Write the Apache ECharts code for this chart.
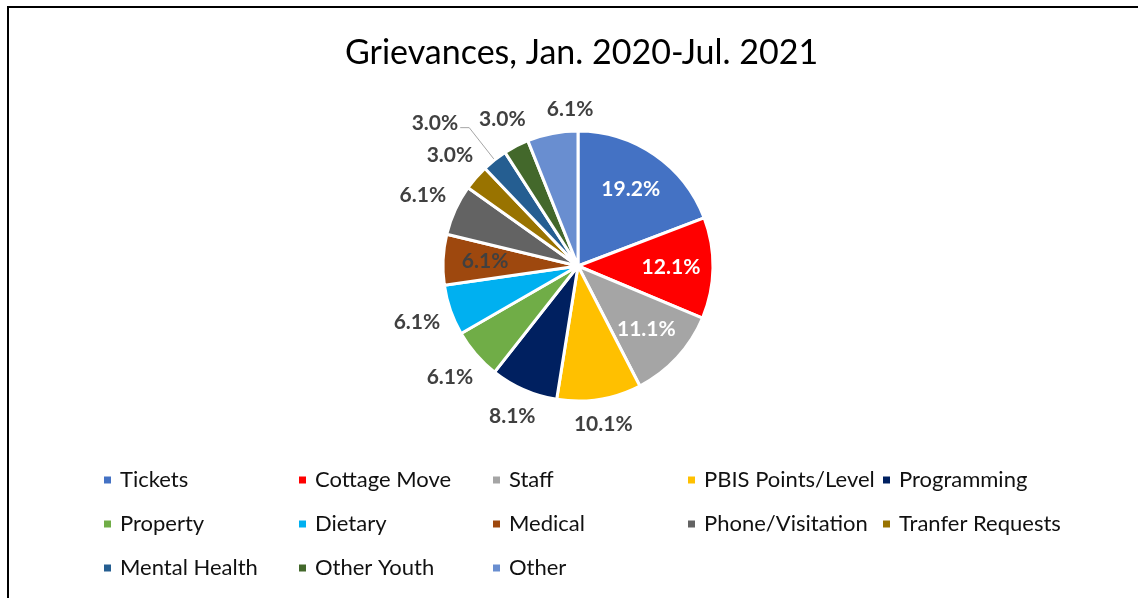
<!DOCTYPE html>
<html>
<head>
    <title>Grievances</title>
    <meta http-equiv="content-type" content="text/html; charset=utf-8" />
    <script src="https://cdn.jsdelivr.net/npm/echarts@6/dist/echarts.min.js"></script>
    <style>
        body { margin: 0; background: #fff; }
        #frame { position: absolute; left: 7px; top: 6px; width: 1140px; height: 600px; border-left: 2px solid #000; border-top: 2px solid #000; }
        #main { position: absolute; left: 0; top: 0; width: 1138px; height: 598px; }
    </style>
</head>
<body>
    <div id="main"></div>
    <div id="frame"></div>
    <script type="text/javascript">
        var categories = ['Tickets', 'Cottage Move', 'Staff', 'PBIS Points/Level', 'Programming',
            'Property', 'Dietary', 'Medical', 'Phone/Visitation', 'Tranfer Requests',
            'Mental Health', 'Other Youth', 'Other'];
        var counts = [19, 12, 11, 10, 8, 6, 6, 6, 6, 3, 3, 3, 6];
        var colors = ['#4472C4', '#FF0000', '#A5A5A5', '#FFC000', '#002060',
            '#70AD47', '#00B0F0', '#9E480E', '#636363', '#997300',
            '#255E91', '#43682B', '#698ED0'];
        // labels drawn inside the slice (name -> text colour)
        var insideLabels = { 'Tickets': '#fff', 'Cottage Move': '#fff', 'Staff': '#fff', 'Medical': '#404040' };

        var cx = 578, cy = 266, R = 135;
        var total = counts.reduce(function (a, b) { return a + b; }, 0);
        function pct(p) { return (p.value / total * 100).toFixed(1) + '%'; }

        // mid angle of every slice, clockwise from 12 o'clock
        var midAngles = [];
        var acc = 0;
        counts.forEach(function (v) {
            midAngles.push((acc + v / 2) / total * Math.PI * 2);
            acc += v;
        });

        var labelFont = { fontFamily: 'Lato', fontWeight: 'bold', fontSize: 21 };

        var mainData = categories.map(function (name, i) {
            var inside = insideLabels[name] !== undefined;
            var item = {
                name: name, value: counts[i],
                itemStyle: { color: colors[i] },
                label: { show: !inside },
                labelLine: { show: false }
            };
            if (name === 'Mental Health') {
                item.labelLine = { show: true, lineStyle: { color: '#A6A6A6', width: 1 } };
            }
            return item;
        });
        var innerData = categories.map(function (name, i) {
            var c = insideLabels[name];
            return {
                name: name, value: counts[i],
                label: { show: c !== undefined, color: c || '#404040' }
            };
        });

        // label box centre just clear of the rim at angle a
        function boxAt(a, w, h) {
            var ux = Math.sin(a), uy = -Math.cos(a);
            var d = R + 10 + w / 2 * Math.abs(ux) + h / 2 * Math.abs(uy);
            return [cx + ux * d, cy + uy * d];
        }

        // "best fit" outside labels, nudged clockwise if they run into the previous one
        function outsideLabel(p) {
            var i = p.dataIndex;
            var ux = Math.sin(midAngles[i]), uy = -Math.cos(midAngles[i]);
            if (categories[i] === 'Mental Health') {
                var ex = cx + ux * (R + 41), ey = cy + uy * (R + 41);
                return {
                    x: ex - 11, y: ey - 4, align: 'right', verticalAlign: 'middle', hideOverlap: false,
                    labelLinePoints: [[cx + ux * R, cy + uy * R], [ex, ey], [ex - 9, ey]]
                };
            }
            var w = p.labelRect.width, h = p.labelRect.height;
            var a = midAngles[i];
            var prev = categories[i - 1];
            if (i > 0 && insideLabels[prev] === undefined && prev !== 'Mental Health') {
                var q = boxAt(midAngles[i - 1], w, h);
                var c = boxAt(a, w, h);
                while (Math.abs(c[0] - q[0]) < w + 20 && Math.abs(c[1] - q[1]) < h) {
                    a += 0.01;
                    c = boxAt(a, w, h);
                }
            }
            var pos = boxAt(a, w, h);
            return { x: pos[0], y: pos[1], align: 'center', verticalAlign: 'middle', hideOverlap: false };
        }

        var legends = [];
        var lefts = [102, 297, 491, 686, 881];
        for (var col = 0; col < 5; col++) {
            legends.push({
                orient: 'vertical', left: lefts[col], top: 469, padding: 0,
                icon: 'rect', itemWidth: 9, itemHeight: 9, itemGap: 22,
                textStyle: { fontFamily: 'Lato', fontSize: 22, color: '#111', lineHeight: 22, padding: [0, 0, 0, 3] },
                data: categories.filter(function (n, i) { return i % 5 === col; })
            });
        }

        var myChart = echarts.init(document.getElementById('main'));
        var option = {
            backgroundColor: '#fff',
            color: colors,
            animation: false,
            title: {
                text: 'Grievances, Jan. 2020-Jul. 2021', left: 340, top: 31,
                textStyle: { fontFamily: 'Lato', fontWeight: 'normal', fontSize: 34, color: '#000' }
            },
            legend: legends,
            series: [
                {
                    type: 'pie',
                    center: [cx, cy],
                    radius: R,
                    startAngle: 90,
                    avoidLabelOverlap: false,
                    itemStyle: { borderColor: '#fff', borderWidth: 3 },
                    label: Object.assign({ position: 'outside', color: '#404040', formatter: pct }, labelFont),
                    labelLayout: outsideLabel,
                    data: mainData
                },
                {
                    type: 'pie',
                    center: [cx, cy],
                    radius: [45, R],
                    startAngle: 90,
                    silent: true,
                    itemStyle: { color: 'transparent' },
                    label: Object.assign({ position: 'inside', formatter: pct }, labelFont),
                    labelLine: { show: false },
                    data: innerData
                }
            ]
        };
        myChart.setOption(option);
    </script>
</body>
</html>
